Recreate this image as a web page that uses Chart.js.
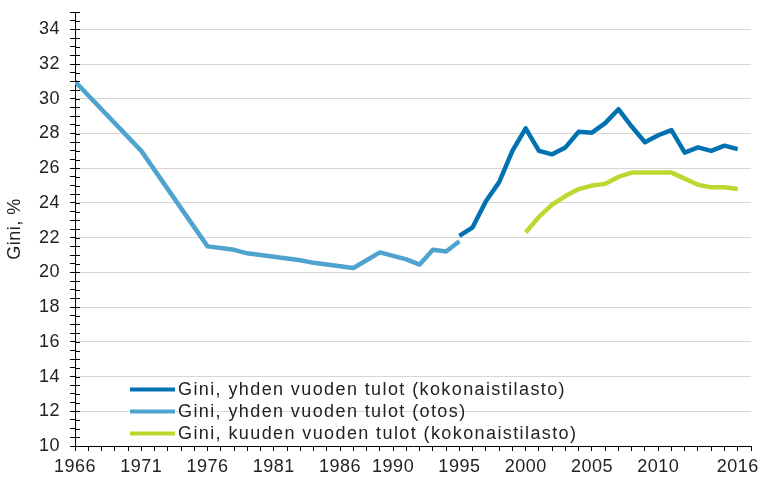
<!DOCTYPE html>
<html><head><meta charset="utf-8">
<script src="https://cdn.jsdelivr.net/npm/chart.js@4/dist/chart.umd.min.js"></script>
<style>html,body{margin:0;padding:0;background:#fff}#wrap{width:760px;height:478px}</style>
</head><body><div id="wrap"><canvas id="c" width="760" height="478"></canvas></div>
<script>
const seriesNames = [
  'Gini, yhden vuoden tulot (kokonaistilasto)',
  'Gini, yhden vuoden tulot (otos)',
  'Gini, kuuden vuoden tulot (kokonaistilasto)'
];
const kokoYears = [1995,1996,1997,1998,1999,2000,2001,2002,2003,2004,2005,2006,2007,2008,2009,2010,2011,2012,2013,2014,2015,2016];
const kokoValues = [22.1,22.6,24.1,25.2,27.0,28.3,27.0,26.8,27.2,28.1,28.05,28.6,29.4,28.4,27.5,27.9,28.2,26.9,27.2,27.0,27.3,27.1];
const otosYears = [1966,1971,1976,1977,1978,1979,1980,1981,1982,1983,1984,1985,1986,1987,1988,1989,1990,1991,1992,1993,1994,1995];
const otosValues = [31.0,27.0,21.5,21.4,21.3,21.1,21.0,20.9,20.8,20.7,20.55,20.45,20.35,20.25,20.7,21.15,20.95,20.75,20.45,21.3,21.2,21.8];
const kuusiYears = [2000,2001,2002,2003,2004,2005,2006,2007,2008,2009,2010,2011,2012,2013,2014,2015,2016];
const kuusiValues = [22.3,23.2,23.9,24.4,24.8,25.0,25.1,25.5,25.75,25.75,25.75,25.75,25.4,25.05,24.9,24.9,24.8];
const xLabelYears = [1966,1971,1976,1981,1986,1990,1995,2000,2005,2010,2016];
const yLabelValues = [10,12,14,16,18,20,22,24,26,28,30,32,34];

const FONT = '"Liberation Sans", Arial, sans-serif';
const toPts = (xs, ys) => xs.map((x, i) => ({x: x, y: ys[i]}));

const crossTicks = {
  id: 'crossTicks',
  beforeUpdate(chart) { chart.ctx.letterSpacing = '0.5px'; },
  beforeDraw(chart) { chart.ctx.letterSpacing = '0.5px'; },
  afterDatasetsDraw(chart) {
    const ctx = chart.ctx, ca = chart.chartArea, ys = chart.scales.y;
    ctx.save();
    ctx.strokeStyle = '#000'; ctx.lineWidth = 1;
    ys.ticks.forEach(t => {
      const p = Math.round(ys.getPixelForValue(t.value)) + 0.5;
      ctx.beginPath(); ctx.moveTo(ca.left, p); ctx.lineTo(ca.left + 5, p); ctx.stroke();
    });
    ctx.restore();
    // legend inside plot area
    ctx.save();
    ctx.letterSpacing = '1.4px';
    ctx.font = '18px ' + FONT;
    ctx.textBaseline = 'middle';
    chart.data.datasets.forEach((ds, i) => {
      const y = ca.bottom - 56.5 + i * 22;
      const x0 = ca.left + 55;
      ctx.strokeStyle = ds.borderColor; ctx.lineWidth = 4;
      ctx.beginPath(); ctx.moveTo(x0, y); ctx.lineTo(x0 + 45, y); ctx.stroke();
      ctx.fillStyle = '#222';
      ctx.fillText(ds.label, x0 + 48, y + 1);
    });
    ctx.restore();
  }
};

new Chart(document.getElementById('c'), {
  type: 'line',
  data: {
    datasets: [
      {label: seriesNames[0], data: toPts(kokoYears, kokoValues), borderColor: '#0072b2', borderWidth: 4.5},
      {label: seriesNames[1], data: toPts(otosYears, otosValues), borderColor: '#4fa3cf', borderWidth: 4.5},
      {label: seriesNames[2], data: toPts(kuusiYears, kuusiValues), borderColor: '#bed730', borderWidth: 4.5}
    ]
  },
  options: {
    responsive: false,
    animation: false,
    devicePixelRatio: 1,
    layout: {padding: {left: 0, right: 9, top: 12, bottom: 0}},
    elements: {point: {radius: 0}, line: {tension: 0, borderJoinStyle: 'round', fill: false}},
    plugins: {legend: {display: false}, tooltip: {enabled: false}},
    scales: {
      x: {
        type: 'linear', min: 1966, max: 2017,
        afterBuildTicks(s) { const t = []; for (let v = 1966; v <= 2017; v++) t.push({value: v}); s.ticks = t; },
        afterFit(s) { s.height = 32; },
        ticks: {
          autoSkip: false, maxRotation: 0, minRotation: 0, padding: 5,
          color: '#222', font: {family: FONT, size: 18},
          callback: v => xLabelYears.includes(v) ? String(v) : ''
        },
        grid: {drawOnChartArea: false, drawTicks: true, tickLength: 5, tickColor: '#000', tickWidth: 1},
        border: {color: '#000', width: 1}
      },
      y: {
        type: 'linear', min: 10, max: 35,
        afterBuildTicks(s) { const t = []; for (let v = 10; v <= 35; v += 0.5) t.push({value: v}); s.ticks = t; },
        afterFit(s) { s.width = 75; s.paddingTop = 0; s.paddingBottom = 0; },
        ticks: {
          autoSkip: false, padding: 10,
          color: '#222', font: {family: FONT, size: 18},
          callback: v => yLabelValues.includes(v) ? String(v) : ''
        },
        grid: {
          drawOnChartArea: true, drawTicks: true, tickLength: 5, tickColor: '#000', tickWidth: 1,
          color: c => (c.tick && yLabelValues.includes(c.tick.value) && c.tick.value !== 10) ? '#d6d6d6' : 'rgba(0,0,0,0)'
        },
        border: {color: '#000', width: 1},
        title: {display: true, text: 'Gini, %', color: '#222', font: {family: FONT, size: 18}, padding: {top: 4, bottom: 0}}
      }
    }
  },
  plugins: [crossTicks]
});
</script></body></html>
